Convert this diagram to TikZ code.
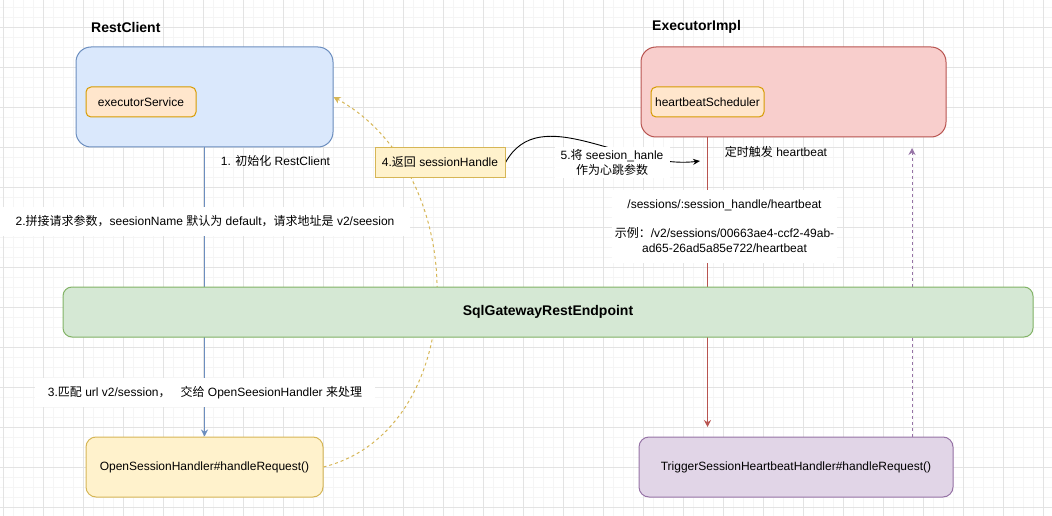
\documentclass[tikz,border=0pt]{standalone}
\usepackage{fontspec}
\setmainfont{Liberation Sans}
\newfontfamily\cjk{Noto Sans CJK SC}
\usetikzlibrary{arrows.meta}

\newcommand{\zh}[1]{{\cjk #1}}

\definecolor{azulfondo}{HTML}{DAE8FC}
\definecolor{azulborde}{HTML}{6C8EBF}
\definecolor{rojofondo}{HTML}{F8CECC}
\definecolor{rojoborde}{HTML}{B85450}
\definecolor{verdefondo}{HTML}{D5E8D4}
\definecolor{verdeborde}{HTML}{82B366}
\definecolor{naranjafondo}{HTML}{FFE6CC}
\definecolor{naranjaborde}{HTML}{D79B00}
\definecolor{amarillofondo}{HTML}{FFF2CC}
\definecolor{amarilloborde}{HTML}{D6B656}
\definecolor{moradofondo}{HTML}{E1D5E7}
\definecolor{moradoborde}{HTML}{9673A6}

\pgfdeclarelayer{fondo}
\pgfdeclarelayer{lineas}
\pgfsetlayers{fondo,lineas,main}

\tikzset{
    caja/.style={draw, rounded corners=#1, line width=1pt, inner sep=0pt, align=center},
    caja/.default=8,
    titulo/.style={inner sep=0pt, anchor=west, font=\bfseries\fontsize{14}{16}\selectfont},
    etiqueta/.style={inner sep=2pt, align=center},
    etiquetablanca/.style={fill=white, inner sep=0pt, align=center},
    flecha/.style={line width=1pt, -{Stealth[length=7pt, width=7pt]}},
    rejillafina/.style={draw=black!4, line width=0.8pt},
    rejilla/.style={draw=black!11, line width=0.8pt}
}

\begin{document}
\begin{tikzpicture}[x=1pt, y=-1pt, every node/.style={font=\fontsize{12}{14.5}\selectfont}]
            \useasboundingbox (0,0) rectangle (1052,516);

            % Rejilla
            \begin{pgfonlayer}{fondo}
                \foreach \gx in {3,13,...,1043} \draw[rejillafina] (\gx,0) -- (\gx,516);
                \foreach \gy in {7,17,...,507} \draw[rejillafina] (0,\gy) -- (1052,\gy);
                \foreach \gx in {3,43,...,1043} \draw[rejilla] (\gx,0) -- (\gx,516);
                \foreach \gy in {27,67,...,507} \draw[rejilla] (0,\gy) -- (1052,\gy);
            \end{pgfonlayer}

            % RestClient
            \node[titulo] (rctit) at (91,27) {RestClient};
            \node[caja=15, fill=azulfondo, draw=azulborde, minimum width=257, minimum height=100] (rc) at (204.5,97) {};
            \node[caja=5, fill=naranjafondo, draw=naranjaborde, minimum width=110, minimum height=30] (es) at (141,102) {executorService};

            % ExecutorImpl
            \node[titulo] (eitit) at (652,27) {ExecutorImpl};
            \node[caja=15, fill=rojofondo, draw=rojoborde, minimum width=305, minimum height=90] (ei) at (793.5,92) {};
            \node[caja=5, fill=naranjafondo, draw=naranjaborde, minimum width=113, minimum height=30] (hs) at (707.5,102) {heartbeatScheduler};

            % Endpoint y handlers
            \node[caja=9, fill=verdefondo, draw=verdeborde, minimum width=970, minimum height=50,
                font=\bfseries\fontsize{14}{16}\selectfont] (ep) at (548,312) {SqlGatewayRestEndpoint};
            \node[caja=10, fill=amarillofondo, draw=amarilloborde, minimum width=237, minimum height=60] (osh) at (204.5,467) {OpenSessionHandler\#handleRequest()};
            \node[caja=10, fill=moradofondo, draw=moradoborde, minimum width=314, minimum height=60] (tsh) at (796,467) {TriggerSessionHeartbeatHandler\#handleRequest()};
            \node[caja=0, fill=amarillofondo, draw=amarilloborde, minimum width=130, minimum height=29] (ret) at (440,162.5) {4.\zh{返回} sessionHandle};

            % Textos
            \node[etiqueta] (l1) at (275.5,161) {1. \zh{初始化} RestClient};
            \node[etiquetablanca, minimum width=410, minimum height=29] (l2) at (205,221.5)
                {2.\zh{拼接请求参数，}seesionName \zh{默认为} default\zh{，请求地址是} v2/seesion};
            \node[etiquetablanca, minimum width=340, minimum height=29] (l3) at (205,392.5)
                {3.\zh{匹配} url v2/session\zh{，}\hspace{10pt}\zh{交给} OpenSeesionHandler \zh{来处理}};
            \node[etiquetablanca, minimum width=115, minimum height=30] (l5) at (612,162.5)
                {5.\zh{将} seesion\_hanle\\\zh{作为心跳参数}};
            \node[etiqueta] (l6) at (776,152) {\zh{定时触发} heartbeat};
            \node[etiquetablanca, minimum width=225, minimum height=73] (l7) at (724.5,226)
                {/sessions/:session\_handle/heartbeat\\[14.5pt]
                 \zh{示例：}/v2/sessions/00663ae4-ccf2-49ab-\\ad65-26ad5a85e722/heartbeat};

            % Conectores
            \coordinate (rojoini) at (hs.center |- ei.south);
            \coordinate (rojofin) at (707.5,427);
            \coordinate (moradofin) at (912,148);
            \coordinate (negrofin) at (700,161);
            \begin{pgfonlayer}{lineas}
                \draw[flecha, azulborde] (rc.south) -- (osh.north);
                \draw[flecha, rojoborde] (rojoini) -- (rojofin);
                \draw[flecha, moradoborde, dashed] (tsh.north -| moradofin) -- (moradofin);
                \draw[flecha, amarilloborde, dashed] (osh.east) .. controls (470,430) and (475,175) .. (rc.east);
                \draw[line width=0.9pt, -{Stealth[length=7pt, width=6pt]}] (ret.east) .. controls (540,100) and (625,170) .. (negrofin);
            \end{pgfonlayer}
\end{tikzpicture}
\end{document}
